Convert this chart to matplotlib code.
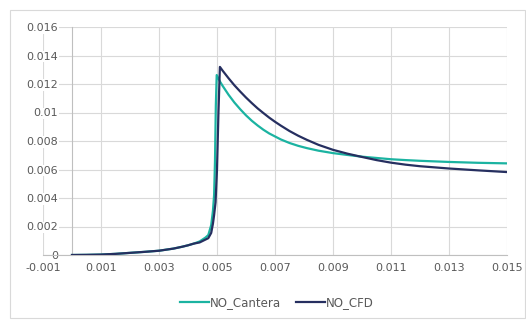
import matplotlib
matplotlib.use("Agg")
import matplotlib.pyplot as plt
from matplotlib.patches import Rectangle

# ---- data ----
cantera_x = [0, 0.0005, 0.001, 0.0015, 0.002, 0.0025, 0.003, 0.0035, 0.0038, 0.004,
             0.0042, 0.0044, 0.0046, 0.0047, 0.0048, 0.00486, 0.0049, 0.00493, 0.00496, 0.00499,
             0.0051, 0.0052, 0.0054, 0.0056, 0.0058, 0.0060, 0.0062, 0.0064, 0.0066, 0.0068,
             0.0070, 0.0072, 0.0075, 0.0078, 0.0081, 0.0085, 0.0090, 0.0095, 0.0100, 0.0105,
             0.0110, 0.0115, 0.0120, 0.0130, 0.0140, 0.0150]
cantera_y = [0, 0.00001, 0.00003, 0.00008, 0.00015, 0.00022, 0.0003, 0.00045, 0.00058, 0.00068,
             0.0008, 0.00095, 0.00122, 0.0014, 0.0021, 0.0031, 0.0042, 0.0065, 0.0105, 0.01263,
             0.01218, 0.01185, 0.01124, 0.0107, 0.01023, 0.0098, 0.00942, 0.00909, 0.00879, 0.00853,
             0.00832, 0.00811, 0.00786, 0.00766, 0.0075, 0.00732, 0.00715, 0.00702, 0.0069, 0.00681,
             0.00672, 0.00666, 0.00661, 0.00653, 0.00647, 0.00643]

cfd_x = [0, 0.0005, 0.001, 0.0015, 0.002, 0.0025, 0.003, 0.0035, 0.0038, 0.004,
         0.0042, 0.0044, 0.0046, 0.0047, 0.0048, 0.00486, 0.0049, 0.00495, 0.005, 0.00505, 0.0051,
         0.0052, 0.0054, 0.0056, 0.0058, 0.0060, 0.0062, 0.0064, 0.0066, 0.0068,
         0.0070, 0.0072, 0.0075, 0.0078, 0.0081, 0.0085, 0.0090, 0.0095, 0.0100, 0.0105,
         0.0110, 0.0115, 0.0120, 0.0130, 0.0140, 0.0150]
cfd_y = [0, 0.00001, 0.00003, 0.00008, 0.00015, 0.00022, 0.0003, 0.00045, 0.00058, 0.00068,
         0.0008, 0.00088, 0.00108, 0.00118, 0.00155, 0.0022, 0.0028, 0.0037, 0.006, 0.010, 0.0132,
         0.01292, 0.0124, 0.01191, 0.01147, 0.01105, 0.01066, 0.01029, 0.00996, 0.00964,
         0.00935, 0.00908, 0.0087, 0.00837, 0.00808, 0.00773, 0.00738, 0.00711, 0.00688, 0.00666,
         0.00648, 0.00634, 0.00623, 0.00607, 0.00594, 0.00582]

x_ticks = [-0.001, 0.001, 0.003, 0.005, 0.007, 0.009, 0.011, 0.013, 0.015]
x_labels = ["-0.001", "0.001", "0.003", "0.005", "0.007", "0.009", "0.011", "0.013", "0.015"]
y_ticks = [0, 0.002, 0.004, 0.006, 0.008, 0.010, 0.012, 0.014, 0.016]
y_labels = ["0", "0.002", "0.004", "0.006", "0.008", "0.01", "0.012", "0.014", "0.016"]

series_names = ["NO_Cantera", "NO_CFD"]
colors = ["#1BB3A1", "#262F60"]

# ---- figure ----
W, H = 526, 320
fig = plt.figure(figsize=(W / 100, H / 100), dpi=100)
fig.patch.set_facecolor("white")

# outer chart border
fig.add_artist(Rectangle((10 / W, 2 / H), 515 / W, 308 / H, transform=fig.transFigure,
                         fill=False, edgecolor="#D9D9D9", linewidth=0.8))

ax = fig.add_axes([43 / W, 65 / H, (507 - 43) / W, (255 - 27) / H])
ax.set_xlim(-0.001, 0.015)
ax.set_ylim(0, 0.016)

ax.plot(cantera_x, cantera_y, color=colors[0], lw=1.6, label=series_names[0], zorder=3)
ax.plot(cfd_x, cfd_y, color=colors[1], lw=1.6, label=series_names[1], zorder=4)

ax.set_xticks(x_ticks)
ax.set_xticklabels(x_labels)
ax.set_yticks(y_ticks)
ax.set_yticklabels(y_labels)

ax.grid(True, color="#D9D9D9", linewidth=0.8)
ax.set_axisbelow(True)

for s in ["top", "right"]:
    ax.spines[s].set_visible(False)
ax.spines["left"].set_position(("data", 0))
ax.spines["left"].set_color("#BFBFBF")
ax.spines["left"].set_linewidth(0.8)
ax.spines["bottom"].set_color("#BFBFBF")
ax.spines["bottom"].set_linewidth(0.8)

ax.tick_params(axis="both", length=0, labelsize=8, labelcolor="#595959")
ax.tick_params(axis="y", pad=10)
ax.tick_params(axis="x", pad=6)
for lbl in ax.get_yticklabels():
    lbl.set_bbox(dict(facecolor="white", edgecolor="none", pad=0.5))

leg = fig.legend(loc="center", bbox_to_anchor=(277 / W, 1 - 303 / H), ncol=2,
                 frameon=False, fontsize=8.5, handlelength=2.4, handletextpad=0.1,
                 columnspacing=1.3, labelcolor="#595959")

fig.savefig("out.png", dpi=100)
